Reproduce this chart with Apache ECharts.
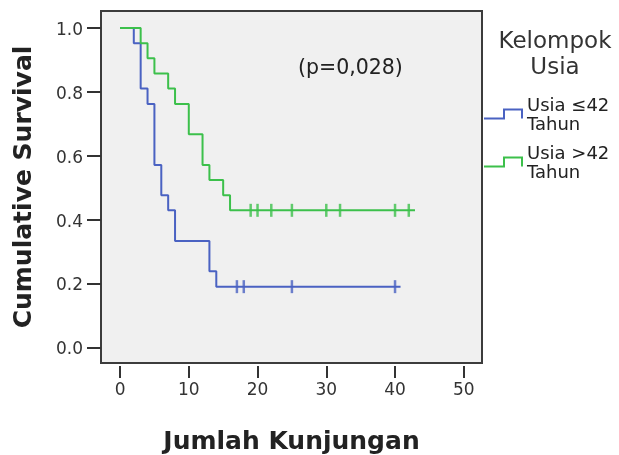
<!DOCTYPE html>
<html>
<head>
<meta charset="utf-8">
<script src="https://cdn.jsdelivr.net/npm/echarts@6/dist/echarts.min.js"></script>
<style>html,body{margin:0;padding:0;background:#fff}#c{width:619px;height:455px}</style>
</head>
<body>
<div id="c"></div>
<script>
// Kaplan-Meier step data
var blueTimes = [0, 2, 3, 4, 5, 6, 7, 8, 13, 14, 40.8];
var blueSurv  = [1.0, 0.952, 0.810, 0.762, 0.571, 0.476, 0.429, 0.333, 0.238, 0.190, 0.190];
var blueCensorTimes = [17, 18, 25, 40];
var blueCensorSurv = 0.190;

var greenTimes = [0, 3, 4, 5, 7, 8, 10, 12, 13, 15, 16, 42.9];
var greenSurv  = [1.0, 0.952, 0.905, 0.857, 0.810, 0.762, 0.667, 0.571, 0.524, 0.476, 0.429, 0.429];
var greenCensorTimes = [19, 20, 22, 25, 30, 32, 40, 42];
var greenCensorSurv = 0.429;

var xTicks = [0, 10, 20, 30, 40, 50];
var yTicks = [0.0, 0.2, 0.4, 0.6, 0.8, 1.0];

var seriesNames = ['Usia \u226442\nTahun', 'Usia >42\nTahun'];
var colors = ['#4a62c2', '#3cc04b'];

function zip(a, b) { return a.map(function (v, i) { return [v, b[i]]; }); }
function censor(ts, s) { return ts.map(function (t) { return [t, s]; }); }

var FONT = 'DejaVu Sans';
// step-shaped legend icon; the lone M point at the bottom lifts the visible step a little
var stepIcon = 'path://M0,9 L19,9 L19,0 L39,0 L39,10 L37,10 L37,2 L21,2 L21,11 L0,11 Z M0,15';

var chart = echarts.init(document.getElementById('c'), null, {renderer: 'canvas'});
chart.setOption({
  backgroundColor: '#ffffff',
  animation: false,
  title: [
    {text: 'Kelompok\nUsia', left: 550, top: 24, textAlign: 'center',
     textStyle: {fontFamily: FONT, fontSize: 23, fontWeight: 'normal', color: '#333', lineHeight: 26, align: 'center'}},
    {text: '(p=0,028)', left: 293, top: 53,
     textStyle: {fontFamily: FONT, fontSize: 20.5, fontWeight: 'normal', color: '#222'}}
  ],
  legend: {
    orient: 'vertical', left: 479, top: 92, itemGap: 10,
    itemWidth: 39, itemHeight: 15,
    data: [{name: seriesNames[0], icon: stepIcon}, {name: seriesNames[1], icon: stepIcon}],
    textStyle: {fontFamily: FONT, fontSize: 18, color: '#222', lineHeight: 19, padding: [0, 0, 0, -1]},
    selectedMode: false
  },
  grid: {left: 101, right: 137, top: 11, bottom: 92, show: true, outerBoundsMode: 'none',
         backgroundColor: '#f0f0f0', borderColor: '#3c3c3c', borderWidth: 2},
  xAxis: {
    type: 'value', min: -2.77, max: 52.65, offset: 3,
    name: 'Jumlah Kunjungan', nameLocation: 'middle', nameGap: 64,
    nameTextStyle: {fontFamily: FONT, fontSize: 25, fontWeight: 'bold', color: '#222'},
    axisLine: {show: false, onZero: false},
    splitLine: {show: false},
    axisTick: {show: true, length: 12, customValues: xTicks, lineStyle: {color: '#333', width: 2}},
    axisLabel: {customValues: xTicks, margin: 16, fontFamily: FONT, fontSize: 17, color: '#333',
                formatter: function (v) { return String(Math.round(v)); }}
  },
  yAxis: {
    type: 'value', min: -0.049, max: 1.053,
    name: 'Cumulative Survival', nameLocation: 'middle', nameGap: 64, nameMoveOverlap: false,
    nameTextStyle: {fontFamily: FONT, fontSize: 25, fontWeight: 'bold', color: '#222'},
    axisLine: {show: false, onZero: false},
    splitLine: {show: false},
    axisTick: {show: true, length: 14, customValues: yTicks, lineStyle: {color: '#333', width: 2}},
    axisLabel: {customValues: yTicks, margin: 18, fontFamily: FONT, fontSize: 17, color: '#333',
                formatter: function (v) { return '{a|' + v.toFixed(1) + '}'; },
                rich: {a: {fontFamily: FONT, fontSize: 17, color: '#333', padding: [5, 0, 0, 0]}}}
  },
  series: [
    {name: seriesNames[0], type: 'line', step: 'end', data: zip(blueTimes, blueSurv),
     showSymbol: false, lineStyle: {color: colors[0], width: 2}, itemStyle: {color: colors[0]}, z: 3},
    {name: seriesNames[1], type: 'line', step: 'end', data: zip(greenTimes, greenSurv),
     showSymbol: false, lineStyle: {color: colors[1], width: 2}, itemStyle: {color: colors[1]}, z: 3},
    {name: 'censorBlue', type: 'scatter', data: censor(blueCensorTimes, blueCensorSurv),
     symbol: 'rect', symbolSize: [2.5, 13], itemStyle: {color: colors[0]}, z: 4},
    {name: 'censorGreen', type: 'scatter', data: censor(greenCensorTimes, greenCensorSurv),
     symbol: 'rect', symbolSize: [2.5, 13], itemStyle: {color: colors[1]}, z: 4}
  ]
});
</script>
</body>
</html>
